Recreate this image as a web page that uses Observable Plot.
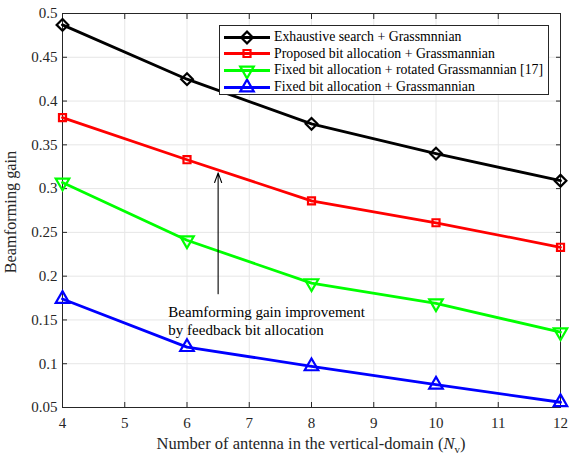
<!DOCTYPE html>
<html><head><meta charset="utf-8">
<script src="https://cdn.jsdelivr.net/npm/d3@7"></script>
<script src="https://cdn.jsdelivr.net/npm/@observablehq/plot@0.6"></script>
<style>
body{margin:0;background:#fff;font-family:'Liberation Serif','DejaVu Serif',serif;}
#wrap{position:relative;width:569px;height:457px;overflow:hidden;}
#legend{position:absolute;left:219px;top:25px;width:330px;height:70px;border:1px solid #262626;background:#fff;box-sizing:border-box;font-size:13.8px;color:#000;}
.row{position:absolute;left:4px;height:17px;display:flex;align-items:center;}
.row span{margin-left:4px;white-space:nowrap;}
#xlab{position:absolute;left:0;width:622px;text-align:center;top:434px;font-size:16.5px;line-height:19px;color:#262626;}
svg text{font-family:'Liberation Serif','DejaVu Serif',serif;}
</style></head>
<body><div id="wrap"><div id="chart"></div><div id="legend"></div><div id="xlab">Number of antenna in the vertical-domain (<i>N</i><sub style="font-size:11px">v</sub>)</div></div>
<script>
const antennas = [4, 6, 8, 10, 12];
const seriesNames = [
  "Exhaustive search + Grassmnnian",
  "Proposed bit allocation + Grassmannian",
  "Fixed bit allocation + rotated Grassmannian [17]",
  "Fixed bit allocation + Grassmannian"
];
const exhaustive = [0.487, 0.425, 0.374, 0.340, 0.309];
const proposed   = [0.381, 0.333, 0.286, 0.261, 0.233];
const rotated    = [0.307, 0.241, 0.192, 0.169, 0.136];
const fixed      = [0.174, 0.119, 0.097, 0.076, 0.056];
const colors = ["#000000", "#ff0000", "#00ff00", "#0000ff"];
const symbols = ["diamond2", "square2", "triangle2", "triangle2"];
const rotations = [0, 0, 180, 0];
const sizes = [28, 20, 42, 42];
const xTicks = [4, 5, 6, 7, 8, 9, 10, 11, 12];
const yTicks = [0.05, 0.1, 0.15, 0.2, 0.25, 0.3, 0.35, 0.4, 0.45, 0.5];
const arrowData = [{x1: 6.5, y1: 0.180, x2: 6.5, y2: 0.318}];
const noteData = [{x: 5.7, y: 0.168, text: "Beamforming gain improvement\nby feedback bit allocation"}];

const allSeries = [exhaustive, proposed, rotated, fixed];
const rows = [];
allSeries.forEach((vals, s) => vals.forEach((v, i) => rows.push({series: s, x: antennas[i], y: v})));

const marks = [
  Plot.gridX(xTicks, {stroke: "#e6e6e6", strokeOpacity: 1}),
  Plot.gridY(yTicks, {stroke: "#e6e6e6", strokeOpacity: 1}),
  Plot.frame({stroke: "#262626", strokeWidth: 1}),
  Plot.axisX(xTicks, {tickSize: -5, stroke: "#262626", fill: "#262626", tickPadding: 15, fontSize: 15, label: null}),
  Plot.axisX(xTicks, {anchor: "top", tickSize: -5, stroke: "#262626", text: null, label: null}),
  Plot.axisY(yTicks, {tickSize: -5, stroke: "#262626", fill: "#262626", tickPadding: 10, fontSize: 15, label: null, tickFormat: d => String(d)}),
  Plot.axisY(yTicks, {anchor: "right", tickSize: -5, stroke: "#262626", text: null, label: null}),
];
allSeries.forEach((vals, s) => {
  const d = rows.filter(r => r.series === s);
  marks.push(Plot.line(d, {x: "x", y: "y", stroke: colors[s], strokeWidth: 2.8, curve: "linear"}));
  marks.push(Plot.dot(d, {x: "x", y: "y", stroke: colors[s], strokeWidth: 2.2, fill: "none", symbol: () => symbols[s], r: Math.sqrt(sizes[s]), rotate: rotations[s]}));
});
marks.push(Plot.arrow(arrowData, {x1: "x1", y1: "y1", x2: "x2", y2: "y2", stroke: "#000", strokeWidth: 1.1, headLength: 14, headAngle: 40, insetEnd: 0}));
marks.push(Plot.text(noteData, {x: "x", y: "y", text: "text", textAnchor: "start", lineAnchor: "top", fontSize: 15, fill: "#000", lineHeight: 1.2}));

const chart = Plot.plot({
  width: 569, height: 457,
  marginLeft: 62, marginRight: 9, marginTop: 13, marginBottom: 50,
  style: {fontFamily: "'Liberation Serif','DejaVu Serif',serif", fontSize: "15px", background: "#fff"},
  x: {domain: [4, 12]},
  y: {domain: [0.05, 0.5]},
  marks
});
document.getElementById("chart").appendChild(chart);

// y-axis title
const svg = d3.select(chart);
svg.append("text").attr("transform", "translate(16,212) rotate(-90)").attr("text-anchor", "middle")
  .attr("font-size", 16.3).attr("fill", "#262626").text("Beamforming gain");

// legend
const leg = document.getElementById("legend");
seriesNames.forEach((name, s) => {
  const row = document.createElement("div");
  row.className = "row";
  row.style.top = (2.5 + s * 16.7) + "px";
  const sv = d3.create("svg").attr("width", 46).attr("height", 17);
  sv.append("line").attr("x1", 0).attr("x2", 46).attr("y1", 8.5).attr("y2", 8.5).attr("stroke", colors[s]).attr("stroke-width", 2.8);
  const sym = {diamond2: d3.symbolDiamond2, square2: d3.symbolSquare2, triangle2: d3.symbolTriangle2}[symbols[s]];
  sv.append("path").attr("d", d3.symbol(sym, sizes[s] * Math.PI)())
    .attr("transform", `translate(23,8.5) rotate(${rotations[s]})`)
    .attr("fill", "none").attr("stroke", colors[s]).attr("stroke-width", 2.2);
  row.appendChild(sv.node());
  const sp = document.createElement("span");
  sp.textContent = name;
  row.appendChild(sp);
  leg.appendChild(row);
});
</script></body></html>
